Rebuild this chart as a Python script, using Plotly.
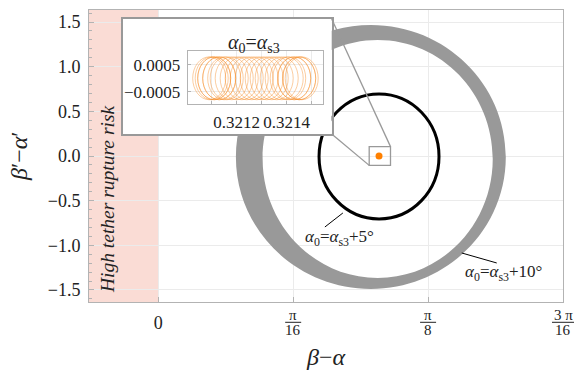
import math
import plotly.graph_objects as go

PI = math.pi

# ---------------- data ----------------
x_tick_vals = [0.0, PI / 16, PI / 8, 3 * PI / 16]
x_tick_num = ["0", "π", "π", "3 π"]
x_tick_den = ["", "16", "8", "16"]
y_tick_vals = [-1.5, -1.0, -0.5, 0.0, 0.5, 1.0, 1.5]
y_tick_text = ["−1.5", "−1.0", "−0.5", "0.0", "0.5", "1.0", "1.5"]

x_range = [-0.1008, 3 * PI / 16]
y_range = [-1.635, 1.635]

# equilibrium point alpha0 = alpha_s3
eq_x = [0.3213]
eq_y = [0.0]

# alpha0 = alpha_s3 + 5 deg : closed orbit (bounding box)
orbit5_x = [0.2340, 0.4086]
orbit5_y = [-0.705, 0.695]

# alpha0 = alpha_s3 + 10 deg : band of trajectories (outer / inner boundary boxes)
band_outer_x = [0.1130, 0.5058]
band_outer_y = [-1.489, 1.467]
band_inner_x = [0.1519, 0.4868]
band_inner_y = [-1.366, 1.299]

# high tether rupture risk region
risk_x = [x_range[0], 0.0]

# zoom square around equilibrium
zoom_x = [0.3070, 0.3380]
zoom_y = [-0.105, 0.105]

# inset (alpha0 = alpha_s3): loop centres, half widths
inset_cx = [0.32109, 0.32110, 0.32111, 0.32113, 0.32115, 0.32118, 0.32122,
            0.32126, 0.32130, 0.32134, 0.32138, 0.32141, 0.32143, 0.32145,
            0.32146, 0.32145, 0.32143, 0.32140, 0.32136, 0.32132, 0.32128,
            0.32124, 0.32120, 0.32116, 0.32113, 0.32111]
inset_rx = 0.000066
inset_ry = 0.00080
inset_x_range = [0.321004, 0.321544]
inset_y_range = [-0.00096, 0.00102]
inset_x_ticks = [0.3211, 0.3212, 0.3213, 0.3214, 0.3215]
inset_x_text = ["", "0.3212", "", "0.3214", ""]
inset_y_ticks = [-0.0005, 0.0005]
inset_y_text = ["−0.0005", "0.0005"]

# ---------------- layout geometry (pixels) ----------------
W, H = 586, 371
L, R, T, B = 89, 23, 10, 69
PW, PH = W - L - R, H - T - B
FONT = "'Liberation Serif', Tinos, 'DejaVu Serif', serif"
TXT = "#222222"


def fx(px):
    return (px - L) / PW


def fy(py):
    return (H - B - py) / PH


def dx2f(x):
    return (x - x_range[0]) / (x_range[1] - x_range[0])


def dy2f(y):
    return (y - y_range[0]) / (y_range[1] - y_range[0])


def ellipse_path(xb, yb):
    k = 0.5523
    cx, cy = (xb[0] + xb[1]) / 2, (yb[0] + yb[1]) / 2
    rx, ry = (xb[1] - xb[0]) / 2, (yb[1] - yb[0]) / 2
    p = f"M{cx+rx},{cy} "
    p += f"C{cx+rx},{cy+k*ry} {cx+k*rx},{cy+ry} {cx},{cy+ry} "
    p += f"C{cx-k*rx},{cy+ry} {cx-rx},{cy+k*ry} {cx-rx},{cy} "
    p += f"C{cx-rx},{cy-k*ry} {cx-k*rx},{cy-ry} {cx},{cy-ry} "
    p += f"C{cx+k*rx},{cy-ry} {cx+rx},{cy-k*ry} {cx+rx},{cy} Z "
    return p


box_dom_x = [fx(122.7), fx(331.7)]
box_dom_y = [fy(134), fy(19)]
ins_dom_x = [fx(187.7), fx(322.7)]
ins_dom_y = [fy(104), fy(51)]

fig = go.Figure()

# equilibrium dot
fig.add_trace(go.Scatter(x=eq_x, y=eq_y, mode="markers",
                         marker=dict(color="#ff8000", size=7),
                         showlegend=False, hoverinfo="skip"))
# box subplot placeholder
fig.add_trace(go.Scatter(x=[None], y=[None], xaxis="x2", yaxis="y2",
                         showlegend=False, hoverinfo="skip"))
# inset subplot placeholder
fig.add_trace(go.Scatter(x=[None], y=[None], xaxis="x3", yaxis="y3",
                         showlegend=False, hoverinfo="skip"))

shapes = []
# risk region
shapes.append(dict(type="rect", xref="x", yref="y", x0=risk_x[0], x1=risk_x[1],
                   y0=y_range[0], y1=y_range[1], fillcolor="#fadcd5",
                   line=dict(width=0), layer="below"))
# band (10 deg)
shapes.append(dict(type="path", xref="x", yref="y",
                   path=ellipse_path(band_outer_x, band_outer_y) + ellipse_path(band_inner_x, band_inner_y),
                   fillcolor="#999999", fillrule="evenodd", line=dict(width=0),
                   layer="between"))
# 5 deg orbit
shapes.append(dict(type="circle", xref="x", yref="y",
                   x0=orbit5_x[0], x1=orbit5_x[1], y0=orbit5_y[0], y1=orbit5_y[1],
                   line=dict(color="black", width=3), layer="between"))
# zoom square
shapes.append(dict(type="rect", xref="x", yref="y",
                   x0=zoom_x[0], x1=zoom_x[1], y0=zoom_y[0], y1=zoom_y[1],
                   line=dict(color="#999999", width=1.3), layer="above"))
# connector lines
shapes.append(dict(type="line", xref="paper", yref="paper",
                   x0=box_dom_x[1], y0=box_dom_y[1], x1=dx2f(zoom_x[1]), y1=dy2f(zoom_y[1]),
                   line=dict(color="#999999", width=1.3), layer="above"))
shapes.append(dict(type="line", xref="paper", yref="paper",
                   x0=box_dom_x[1], y0=box_dom_y[0], x1=dx2f(zoom_x[0]), y1=dy2f(zoom_y[0]),
                   line=dict(color="#999999", width=1.3), layer="above"))
# leader lines for labels
shapes.append(dict(type="line", xref="x", yref="y", x0=0.2425, y0=-0.795, x1=0.2687, y1=-0.638,
                   line=dict(color="black", width=1), layer="above"))
shapes.append(dict(type="line", xref="x", yref="y", x0=0.4417, y0=-1.086, x1=0.4926, y1=-1.198,
                   line=dict(color="black", width=1), layer="above"))
# inset loops
for c in inset_cx:
    shapes.append(dict(type="circle", xref="x3", yref="y3",
                       x0=c - inset_rx, x1=c + inset_rx, y0=-inset_ry, y1=inset_ry,
                       line=dict(color="rgba(245,140,40,0.55)", width=0.8), layer="between"))
# fraction bars for x tick labels
for v, num, den in zip(x_tick_vals, x_tick_num, x_tick_den):
    if den:
        hw = 11 if len(num) > 1 else 8
        cxp = dx2f(v)
        shapes.append(dict(type="line", xref="paper", yref="paper",
                           x0=cxp - hw / PW, x1=cxp + hw / PW, y0=fy(322.3), y1=fy(322.3),
                           line=dict(color=TXT, width=1), layer="above"))


def ann(x, y, text, size, angle=0):
    return dict(x=x, y=y, xref="paper", yref="paper", text=text, showarrow=False,
                xanchor="center", yanchor="middle", textangle=angle,
                font=dict(family=FONT, size=size, color=TXT))


annotations = []
for v, num, den in zip(x_tick_vals, x_tick_num, x_tick_den):
    if den:
        annotations.append(ann(dx2f(v), fy(315), num, 15))
        annotations.append(ann(dx2f(v), fy(330), den, 15))
annotations += [
    ann(0.5, fy(357), "<i>β</i>−<i>α</i>", 24),
    ann(fx(19), fy(156), "<i>β</i>′−<i>α</i>′", 24, -90),
    ann(fx(108), fy(200), "<i>High tether rupture risk</i>", 19.5, -90),
    ann(fx(339), fy(238), "<i>α</i><sub>0</sub>=<i>α</i><sub>s3</sub>+5°", 17),
    ann(fx(503), fy(273), "<i>α</i><sub>0</sub>=<i>α</i><sub>s3</sub>+10°", 17),
    ann(fx(254), fy(43), "<i>α</i><sub>0</sub>=<i>α</i><sub>s3</sub>", 20),
]

frame = "#b3b3b3"
grid = "#ebebeb"
fig.update_layout(
    width=W, height=H,
    margin=dict(l=L, r=R, t=T, b=B),
    paper_bgcolor="white", plot_bgcolor="white",
    showlegend=False,
    shapes=shapes, annotations=annotations,
    font=dict(family=FONT, size=17, color=TXT),
    xaxis=dict(range=x_range, domain=[0, 1], tickvals=x_tick_vals,
               ticktext=["0", "", "", ""], showgrid=True, gridcolor=grid,
               zeroline=False, showline=True, mirror=True, linecolor=frame,
               ticks="inside", ticklen=5, tickcolor=frame, ticklabelstandoff=4,
               tickfont=dict(family=FONT, size=18, color=TXT)),
    yaxis=dict(range=y_range, domain=[0, 1], tickvals=y_tick_vals,
               ticktext=y_tick_text, showgrid=True, gridcolor=grid,
               zeroline=False, showline=True, mirror=True, linecolor=frame,
               ticks="inside", ticklen=5, tickcolor=frame, ticklabelstandoff=4,
               minor=dict(ticks="inside", ticklen=3, dtick=0.1, tick0=0, tickcolor=frame, showgrid=False),
               tickfont=dict(family=FONT, size=18, color=TXT)),
    xaxis2=dict(domain=box_dom_x, anchor="y2", range=[0, 1], showgrid=False,
                zeroline=False, showticklabels=False, ticks="", showline=True,
                mirror=True, linecolor="#999999", linewidth=1.6),
    yaxis2=dict(domain=box_dom_y, anchor="x2", range=[0, 1], showgrid=False,
                zeroline=False, showticklabels=False, ticks="", showline=True,
                mirror=True, linecolor="#999999", linewidth=1.6),
    xaxis3=dict(domain=ins_dom_x, anchor="y3", range=inset_x_range,
                tickvals=inset_x_ticks, ticktext=inset_x_text, showgrid=True,
                gridcolor=grid, zeroline=False, showline=True, mirror=True,
                linecolor=frame, ticks="inside", ticklen=3, tickcolor=frame,
                ticklabelstandoff=3,
                tickfont=dict(family=FONT, size=17, color=TXT)),
    yaxis3=dict(domain=ins_dom_y, anchor="x3", range=inset_y_range,
                tickvals=inset_y_ticks, ticktext=inset_y_text, showgrid=True,
                gridcolor=grid, zeroline=False, showline=True, mirror=True,
                linecolor=frame, ticks="inside", ticklen=3, tickcolor=frame,
                ticklabelstandoff=3,
                tickfont=dict(family=FONT, size=17, color=TXT)),
)

fig.write_html("out.html")
